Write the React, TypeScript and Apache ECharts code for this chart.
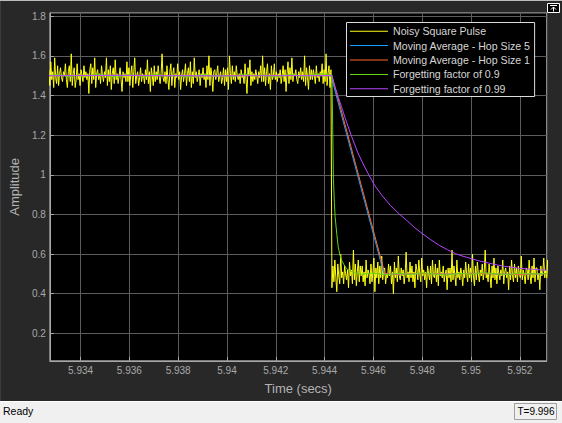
import React, { useEffect, useRef } from "react";
import * as echarts from "echarts";

// ---- axis ticks ----
const X_TICKS = [5.934, 5.936, 5.938, 5.94, 5.942, 5.944, 5.946, 5.948, 5.95, 5.952];
const Y_TICKS = [0.2, 0.4, 0.6, 0.8, 1, 1.2, 1.4, 1.6, 1.8];
const X_MIN = 5.93274;
const X_MAX = 5.9531;
const Y_MIN = 0.0615;
const Y_MAX = 1.8166;

// ---- series names ----
const SERIES_NAMES = [
  "Noisy Square Pulse",
  "Moving Average - Hop Size 5",
  "Moving Average - Hop Size 1",
  "Forgetting factor of 0.9",
  "Forgetting factor of 0.99",
];

// ---- noisy square pulse (sampled every NOISE_DT seconds) ----
const NOISE_DT = 0.00004;
const NOISE_HIGH_T0 = 5.9327;
const NOISE_LOW_T0 = 5.9443;
const NOISE_HIGH = [
  1.53, 1.45, 1.57, 1.48, 1.52, 1.44, 1.59, 1.49, 1.46, 1.55,
  1.45, 1.51, 1.54, 1.49, 1.47, 1.52, 1.50, 1.56, 1.48, 1.44,
  1.52, 1.55, 1.47, 1.61, 1.45, 1.51, 1.54, 1.44, 1.48, 1.56,
  1.48, 1.51, 1.45, 1.53, 1.50, 1.47, 1.55, 1.49, 1.52, 1.48,
  1.51, 1.41, 1.53, 1.56, 1.46, 1.54, 1.48, 1.59, 1.44, 1.51,
  1.53, 1.48, 1.51, 1.46, 1.55, 1.50, 1.47, 1.52, 1.49, 1.59,
  1.45, 1.53, 1.47, 1.55, 1.43, 1.51, 1.54, 1.46, 1.58, 1.48,
  1.51, 1.46, 1.50, 1.54, 1.48, 1.42, 1.52, 1.49, 1.51, 1.47,
  1.57, 1.47, 1.54, 1.45, 1.51, 1.55, 1.44, 1.52, 1.59, 1.46,
  1.50, 1.52, 1.45, 1.49, 1.54, 1.47, 1.51, 1.50, 1.46, 1.53,
  1.48, 1.58, 1.46, 1.52, 1.42, 1.54, 1.50, 1.45, 1.55, 1.47,
  1.52, 1.48, 1.55, 1.50, 1.46, 1.51, 1.61, 1.49, 1.47, 1.52,
  1.46, 1.55, 1.48, 1.43, 1.52, 1.56, 1.45, 1.51, 1.54, 1.44,
  1.51, 1.49, 1.56, 1.48, 1.52, 1.43, 1.50, 1.53, 1.47, 1.51,
  1.56, 1.45, 1.51, 1.54, 1.47, 1.57, 1.44, 1.52, 1.46, 1.59,
  1.49, 1.52, 1.47, 1.50, 1.53, 1.45, 1.51, 1.49, 1.54, 1.48,
  1.51, 1.44, 1.55, 1.48, 1.60, 1.45, 1.54, 1.50, 1.42, 1.52,
  1.53, 1.48, 1.51, 1.55, 1.47, 1.50, 1.52, 1.46, 1.49, 1.54,
  1.45, 1.53, 1.47, 1.54, 1.43, 1.60, 1.51, 1.46, 1.55, 1.48,
  1.52, 1.47, 1.55, 1.50, 1.48, 1.51, 1.46, 1.53, 1.49, 1.50,
  1.46, 1.56, 1.48, 1.41, 1.54, 1.50, 1.58, 1.45, 1.52, 1.47,
  1.51, 1.48, 1.53, 1.50, 1.46, 1.52, 1.49, 1.55, 1.47, 1.60,
  1.47, 1.54, 1.45, 1.52, 1.56, 1.46, 1.51, 1.43, 1.55, 1.48,
  1.50, 1.56, 1.48, 1.52, 1.47, 1.51, 1.49, 1.53, 1.46, 1.50,
  1.55, 1.47, 1.53, 1.42, 1.51, 1.57, 1.46, 1.54, 1.48, 1.59,
  1.47, 1.51, 1.50, 1.53, 1.48, 1.46, 1.52, 1.49, 1.54, 1.48,
  1.52, 1.47, 1.60, 1.45, 1.54, 1.49, 1.43, 1.55, 1.48, 1.53,
  1.48, 1.53, 1.50, 1.46, 1.55, 1.49, 1.51, 1.47, 1.52, 1.50,
  1.56, 1.46, 1.53, 1.47, 1.61, 1.45, 1.51, 1.55, 1.44, 1.53,
];
const NOISE_LOW = [
  0.43, 0.54, 0.46, 0.57, 0.48, 0.41, 0.55, 0.49, 0.45, 0.60,
  0.48, 0.51, 0.45, 0.54, 0.50, 0.47, 0.52, 0.43, 0.56, 0.49,
  0.52, 0.45, 0.62, 0.47, 0.55, 0.44, 0.51, 0.57, 0.46, 0.54,
  0.49, 0.54, 0.46, 0.51, 0.44, 0.57, 0.48, 0.52, 0.50, 0.45,
  0.55, 0.46, 0.51, 0.58, 0.41, 0.53, 0.48, 0.56, 0.45, 0.54,
  0.48, 0.59, 0.47, 0.51, 0.53, 0.45, 0.50, 0.48, 0.55, 0.49,
  0.54, 0.45, 0.51, 0.40, 0.56, 0.48, 0.53, 0.46, 0.59, 0.49,
  0.47, 0.53, 0.49, 0.52, 0.45, 0.50, 0.61, 0.48, 0.51, 0.46,
  0.56, 0.48, 0.54, 0.46, 0.51, 0.43, 0.55, 0.52, 0.47, 0.57,
  0.50, 0.46, 0.58, 0.49, 0.52, 0.47, 0.51, 0.43, 0.54, 0.50,
  0.47, 0.54, 0.45, 0.57, 0.49, 0.48, 0.55, 0.46, 0.53, 0.44,
  0.57, 0.49, 0.51, 0.48, 0.54, 0.46, 0.50, 0.52, 0.42, 0.53,
  0.48, 0.53, 0.46, 0.62, 0.47, 0.54, 0.49, 0.44, 0.57, 0.48,
  0.51, 0.47, 0.53, 0.50, 0.44, 0.52, 0.48, 0.56, 0.50, 0.46,
  0.55, 0.48, 0.53, 0.46, 0.60, 0.49, 0.44, 0.54, 0.47, 0.56,
  0.50, 0.46, 0.52, 0.49, 0.55, 0.47, 0.51, 0.62, 0.48, 0.50,
  0.46, 0.55, 0.49, 0.43, 0.54, 0.48, 0.58, 0.47, 0.53, 0.45,
  0.54, 0.50, 0.47, 0.52, 0.49, 0.57, 0.45, 0.51, 0.53, 0.48,
  0.51, 0.42, 0.54, 0.47, 0.57, 0.49, 0.46, 0.55, 0.48, 0.53,
  0.46, 0.54, 0.50, 0.48, 0.59, 0.47, 0.52, 0.49, 0.45, 0.53,
  0.52, 0.47, 0.57, 0.49, 0.45, 0.54, 0.48, 0.58, 0.46, 0.53,
  0.53, 0.47, 0.50, 0.42, 0.54, 0.49, 0.51, 0.58, 0.48, 0.52,
  0.48, 0.57, 0.46, 0.52, 0.49, 0.63, 0.47, 0.55, 0.45, 0.51,
];

// ---- moving average, hop size 5 ----
const MA5_T = [5.9327, 5.9355, 5.9385, 5.9415, 5.94426, 5.94643, 5.947, 5.948, 5.949, 5.95, 5.951, 5.952, 5.9531];
const MA5_V = [1.5, 1.502, 1.499, 1.501, 1.5, 0.501, 0.498, 0.502, 0.499, 0.503, 0.5, 0.497, 0.501];

// ---- moving average, hop size 1 ----
const MA1_T = [5.9327, 5.9355, 5.9385, 5.9415, 5.9443, 5.94647, 5.947, 5.948, 5.949, 5.95, 5.951, 5.952, 5.9531];
const MA1_V = [1.5, 1.502, 1.499, 1.501, 1.5, 0.501, 0.498, 0.502, 0.499, 0.503, 0.5, 0.497, 0.501];

// ---- forgetting factor 0.9 ----
const FF09_T = [
  5.9327, 5.9331, 5.9335, 5.9339, 5.9343, 5.9347, 5.9351, 5.9355, 5.9359, 5.9363,
  5.9367, 5.9371, 5.9375, 5.9379, 5.9383, 5.9387, 5.9391, 5.9395, 5.9399, 5.9403,
  5.9407, 5.9411, 5.9415, 5.9419, 5.9423, 5.9427, 5.9431, 5.9435, 5.9439, 5.9443,
  5.94433, 5.94436, 5.9444, 5.94443, 5.9445, 5.94456, 5.94463, 5.9447, 5.9448, 5.9449,
  5.94505, 5.94523, 5.9455, 5.946, 5.9465, 5.947, 5.9475, 5.948, 5.9485, 5.949,
  5.9495, 5.95, 5.9505, 5.951, 5.9515, 5.952, 5.9525, 5.9531,
];
const FF09_V = [
  1.5, 1.506, 1.494, 1.503, 1.497, 1.508, 1.499, 1.492, 1.504, 1.501,
  1.496, 1.507, 1.498, 1.503, 1.493, 1.5, 1.505, 1.497, 1.502, 1.495,
  1.509, 1.499, 1.503, 1.494, 1.501, 1.506, 1.497, 1.504, 1.509, 1.503,
  1.25, 0.98, 0.86, 0.79, 0.7, 0.635, 0.595, 0.568, 0.545, 0.526,
  0.515, 0.507, 0.498, 0.504, 0.495, 0.503, 0.497, 0.505, 0.499, 0.494,
  0.503, 0.498, 0.506, 0.501, 0.496, 0.504, 0.499, 0.502,
];

// ---- forgetting factor 0.99 ----
const FF099_T = [
  5.9327, 5.936, 5.9395, 5.9425, 5.9443, 5.944432, 5.944564, 5.9447, 5.944832, 5.9451,
  5.945364, 5.9457, 5.946032, 5.946352, 5.9467, 5.947032, 5.947364, 5.947672, 5.948004, 5.948352,
  5.9487, 5.949032, 5.949364, 5.949672, 5.950004, 5.950352, 5.9507, 5.951032, 5.951364, 5.951672,
  5.952004, 5.952552, 5.9531,
];
const FF099_V = [
  1.5, 1.501, 1.499, 1.5, 1.5, 1.44, 1.39, 1.34, 1.29, 1.195,
  1.11, 1.025, 0.95, 0.895, 0.845, 0.805, 0.77, 0.735, 0.703, 0.672,
  0.644, 0.622, 0.602, 0.589, 0.577, 0.565, 0.555, 0.546, 0.538, 0.533,
  0.528, 0.523, 0.518,
];

const COLORS = ["#ffff11", "#139fff", "#ff6929", "#64d413", "#b746ff"];

const FONT = "'Liberation Sans', Arial, sans-serif";

function pairs(t: number[], v: number[]) {
  return t.map((x, i) => [x, v[i]]);
}

export default function App() {
  const ref = useRef<HTMLDivElement>(null);
  useEffect(() => {
    if (!ref.current) return;
    const chart = echarts.init(ref.current, null, { renderer: "svg" });

    const noise = [
      ...NOISE_HIGH.map((v, i) => [NOISE_HIGH_T0 + i * NOISE_DT, v]),
      ...NOISE_LOW.map((v, i) => [NOISE_LOW_T0 + i * NOISE_DT, v]),
    ];
    const seriesData = [
      noise,
      pairs(MA5_T, MA5_V),
      pairs(MA1_T, MA1_V),
      pairs(FF09_T, FF09_V),
      pairs(FF099_T, FF099_V),
    ];

    const axisColor = "#a8a8a8";
    const gridColor = "#5c5c5c";

    chart.setOption({
      animation: false,
      backgroundColor: "#282828",
      textStyle: { fontFamily: FONT },
      grid: {
        left: 37.6,
        right: 15.3,
        top: 12.9,
        bottom: 62.2,
        show: true,
        backgroundColor: "#000000",
        borderColor: axisColor,
        borderWidth: 1,
      },
      legend: {
        orient: "vertical",
        left: 346.5,
        top: 22.5,
        padding: [1.5, 4, 0.5, 3.5],
        itemGap: 0,
        itemWidth: 38,
        itemHeight: 1,
        icon: "rect",
        backgroundColor: "#000000",
        borderColor: "#dcdcdc",
        borderWidth: 1,
        borderRadius: 0,
        selectedMode: false,
        textStyle: { color: "#d6d6d6", fontSize: 10.6, fontFamily: FONT, lineHeight: 14.4 },
        data: SERIES_NAMES,
      },
      xAxis: {
        type: "value",
        min: X_MIN,
        max: X_MAX,
        name: "Time (secs)",
        nameLocation: "middle",
        nameGap: 21,
        nameTextStyle: { color: "#b3b3b3", fontSize: 13, fontFamily: FONT },
        axisLine: { show: true, lineStyle: { color: axisColor } },
        axisTick: { show: true, inside: true, length: 4, lineStyle: { color: axisColor }, customValues: X_TICKS },
        axisLabel: {
          color: "#a8a8a8",
          fontSize: 10,
          margin: 5,
          customValues: X_TICKS,
          formatter: (v: number) => String(parseFloat(v.toFixed(3))),
        },
        splitLine: { show: true, lineStyle: { color: gridColor, width: 1 } },
      },
      yAxis: {
        type: "value",
        min: Y_MIN,
        max: Y_MAX,
        name: "Amplitude",
        nameLocation: "middle",
        nameRotate: 90,
        nameGap: 18,
        nameTextStyle: { color: "#b3b3b3", fontSize: 13, fontFamily: FONT },
        axisLine: { show: true, lineStyle: { color: axisColor } },
        axisTick: { show: true, inside: true, length: 4, lineStyle: { color: axisColor }, customValues: Y_TICKS },
        axisLabel: {
          color: "#a8a8a8",
          fontSize: 10,
          margin: 4,
          customValues: Y_TICKS,
          formatter: (v: number) => String(parseFloat(v.toFixed(1))),
        },
        splitLine: { show: true, lineStyle: { color: gridColor, width: 1 } },
      },
      series: SERIES_NAMES.map((name, i) => ({
        name,
        type: "line",
        data: seriesData[i],
        showSymbol: false,
        symbol: "none",
        color: COLORS[i],
        lineStyle: { color: COLORS[i], width: 1 },
        itemStyle: { color: COLORS[i] },
        emphasis: { disabled: true },
        z: 2 + i,
      })),
      graphic: [
        { type: "rect", shape: { x: 0, y: 0, width: 562, height: 1 }, style: { fill: "#bdbdbd" }, silent: true },
        { type: "rect", shape: { x: 0, y: 1, width: 1, height: 400 }, style: { fill: "#3c3c3c" }, silent: true },
        {
          type: "group",
          silent: true,
          children: [
            { type: "rect", shape: { x: 547.5, y: 3.5, width: 12, height: 9 }, style: { fill: "#000", stroke: "#ffffff", lineWidth: 1 } },
            { type: "line", shape: { x1: 550, y1: 5.5, x2: 557, y2: 5.5 }, style: { stroke: "#ffffff", lineWidth: 1 } },
            { type: "line", shape: { x1: 553.5, y1: 7, x2: 553.5, y2: 11.5 }, style: { stroke: "#ffffff", lineWidth: 1 } },
            { type: "polyline", shape: { points: [[551, 9.5], [553.5, 7], [556, 9.5]] }, style: { stroke: "#ffffff", fill: "none", lineWidth: 1 } },
          ],
        },
        { type: "rect", shape: { x: 0, y: 401, width: 562, height: 22 }, style: { fill: "#f0f0f0" }, silent: true },
        { type: "rect", shape: { x: 0, y: 401, width: 562, height: 1 }, style: { fill: "#ffffff" }, silent: true },
        {
          type: "text",
          x: 3,
          y: 411,
          silent: true,
          style: { text: "Ready", fill: "#000000", fontSize: 10.5, fontFamily: FONT, verticalAlign: "middle" },
        },
        {
          type: "rect",
          shape: { x: 514.5, y: 403.5, width: 42, height: 16 },
          style: { fill: "#f0f0f0", stroke: "#a0a0a0", lineWidth: 1 },
          silent: true,
        },
        {
          type: "text",
          x: 517.5,
          y: 411.5,
          silent: true,
          style: { text: "T=9.996", fill: "#000000", fontSize: 10, fontFamily: FONT, verticalAlign: "middle" },
        },
      ],
    });
    return () => chart.dispose();
  }, []);
  return (
    <div
      ref={ref}
      style={{ position: "absolute", left: 0, top: 0, width: 562, height: 423 }}
    />
  );
}
